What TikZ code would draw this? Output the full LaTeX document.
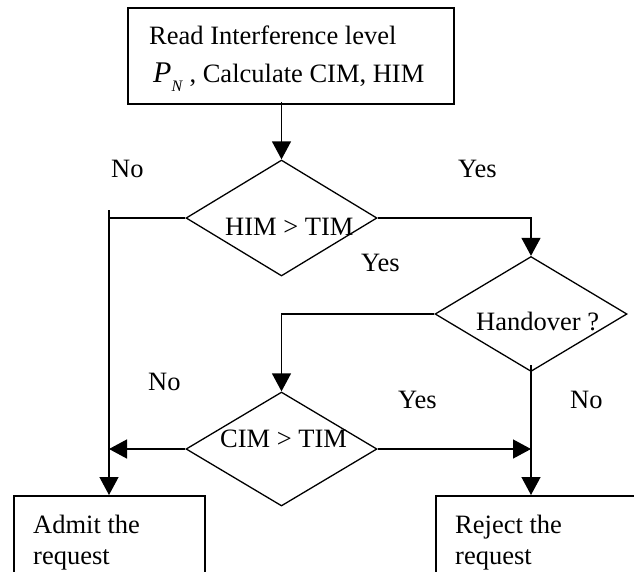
\documentclass[tikz,border=0pt]{standalone}
\usepackage{fontspec}
\setmainfont{Liberation Serif}
\usetikzlibrary{shapes.geometric,arrows.meta}
\tikzset{
  txt/.style={font=\fontsize{26.5}{31}\selectfont, inner sep=0pt},
  boxstyle/.style={draw, line width=1.5pt, rectangle, inner sep=0pt},
  decision/.style={draw, line width=1.3pt, diamond, inner sep=0pt},
  conn/.style={line width=1.3pt},
  arr/.style={line width=1.3pt, -{Triangle[length=18pt,width=19pt]}},
}
\begin{document}
\begin{tikzpicture}[x=1pt,y=-1pt]
\useasboundingbox (0,0) rectangle (634,571);
\clip (0,0) rectangle (634,571);
\fill[white] (0,0) rectangle (634,571);
% boxes
\node[boxstyle, minimum width=326pt, minimum height=96pt] (top) at (291,56) {};
\node[boxstyle, minimum width=191pt, minimum height=130pt, anchor=north west] (admit) at (13,495) {};
\node[boxstyle, minimum width=240pt, minimum height=130pt, anchor=north west] (reject) at (435,495) {};
% decisions
\node[decision, minimum width=191pt, minimum height=116pt] (d1) at (281.5,218) {};
\node[decision, minimum width=192pt, minimum height=115pt] (d2) at (531,314) {};
\node[decision, minimum width=191pt, minimum height=114pt] (d3) at (281.5,449) {};
% texts
\node[txt, anchor=north west, align=left, font=\fontsize{26.5}{38.5}\selectfont] (toptext) at (149,25.4)
  {Read Interference level\\\hspace{4pt}{\fontsize{30}{30}\selectfont\textit{P}}\raisebox{-0.32em}{\fontsize{16}{16}\selectfont\textit{N}} , Calculate CIM, HIM};
\node[txt, anchor=base west] (t1) at (225,235) {HIM > TIM};
\node[txt, anchor=base west] (t2) at (476,330) {Handover ?};
\node[txt, anchor=base west] (t3) at (220,447) {CIM > TIM};
\node[txt, anchor=north west, align=left] (admittext) at (33,515) {Admit the\\request};
\node[txt, anchor=north west, align=left] (rejecttext) at (455,515) {Reject the\\request};
% edge labels
\node[txt, anchor=base west] (l1) at (111,177) {No};
\node[txt, anchor=base west] (l2) at (458,177) {Yes};
\node[txt, anchor=base west] (l3) at (361,271) {Yes};
\node[txt, anchor=base west] (l4) at (148,390) {No};
\node[txt, anchor=base west] (l5) at (398,408) {Yes};
\node[txt, anchor=base west] (l6) at (570,408) {No};
% connectors
\coordinate (tick) at (109,210);
\draw[arr, shorten <=-3pt] (top.south -| d1.north) -- (d1.north);
\draw[conn] (d1.west) -- (d1.west -| tick);
\draw[arr] (tick) -- (tick |- admit.north);
\draw[arr] (d1.east) -| (d2.north);
\draw[arr] (d2.west) -| (d3.north);
\draw[arr] (d3.west) -- (d3.west -| tick);
\draw[arr] (d3.east) -- (d3.east -| d2.south);
\draw[arr, shorten <=-7pt] (d2.south) -- (d2.south |- reject.north);
\end{tikzpicture}
\end{document}
